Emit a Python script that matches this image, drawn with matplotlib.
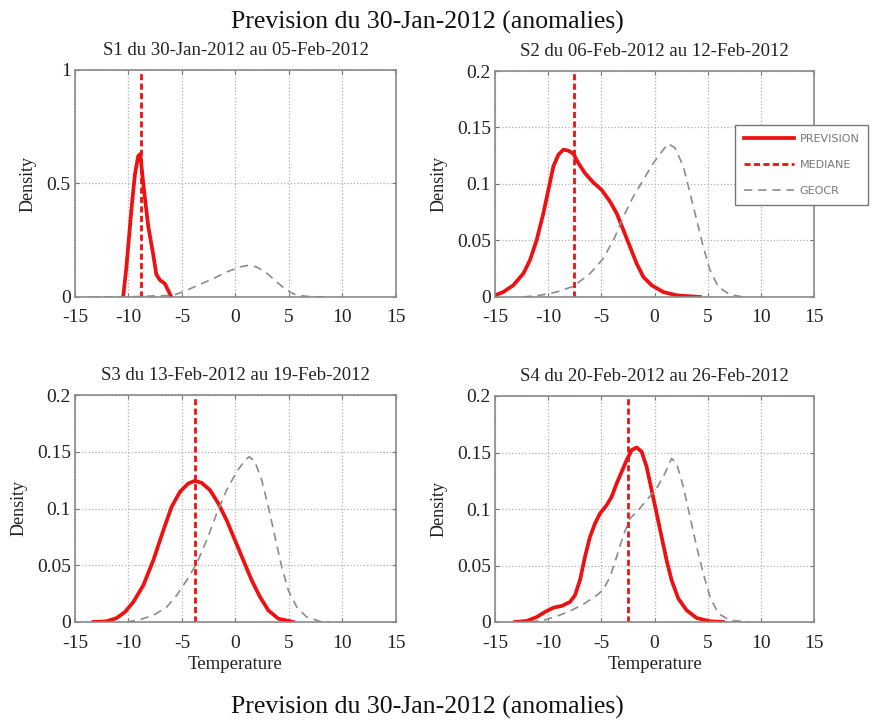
"""Weekly temperature-anomaly forecast densities (S1..S4) vs GEOCR climatology."""
import matplotlib
matplotlib.use("Agg")
import matplotlib.pyplot as plt
from matplotlib.ticker import FormatStrFormatter

plt.rcParams["font.family"] = ["Liberation Serif", "DejaVu Serif"]
plt.rcParams["axes.unicode_minus"] = False

MAIN_TITLE = "Prevision du 30-Jan-2012 (anomalies)"
WEEK_TITLES = [
    "S1 du 30-Jan-2012 au 05-Feb-2012",
    "S2 du 06-Feb-2012 au 12-Feb-2012",
    "S3 du 13-Feb-2012 au 19-Feb-2012",
    "S4 du 20-Feb-2012 au 26-Feb-2012",
]
LEGEND_LABELS = ["PREVISION", "MEDIANE", "GEOCR"]

# S1
prev1_x = [-10.5, -10.2, -9.7, -9.4, -9.1, -8.9, -8.6, -8.15, -7.7, -7.4, -7.05, -6.6, -6.3, -6.0]
prev1_y = [0.0, 0.13, 0.40, 0.54, 0.62, 0.63, 0.49, 0.31, 0.19, 0.10, 0.074, 0.059, 0.03, 0.0]
geo1_x = [-13.6, -9.55, -5.81, -4.56, -3.32, -2.07, -0.83, 0.42, 1.20, 1.98, 2.91, 3.85, 4.78,
          5.72, 6.96, 8.52]
geo1_y = [0.0, 0.0015, 0.0074, 0.0294, 0.0559, 0.0809, 0.1103, 0.1324, 0.1397, 0.1324, 0.1059,
          0.0662, 0.0294, 0.0074, 0.0015, 0.0]
med1 = -8.85

# S2
prev2_x = [-15.0, -14.22, -13.28, -12.34, -11.71, -11.08, -10.45, -9.98, -9.51, -9.04, -8.57,
           -8.10, -7.63, -7.16, -6.54, -5.75, -4.97, -4.18, -3.56, -2.93, -2.30, -1.68, -1.05,
           -0.27, 0.83, 2.08, 4.28]
prev2_y = [0.0015, 0.0044, 0.0104, 0.0207, 0.0326, 0.0504, 0.0741, 0.0948, 0.1156, 0.1259,
           0.1304, 0.1295, 0.1268, 0.1185, 0.1096, 0.1013, 0.0948, 0.0844, 0.0741, 0.0593,
           0.0444, 0.0296, 0.0178, 0.0104, 0.0044, 0.0015, 0.0]
geo2_x = [-12.34, -10.77, -9.20, -7.63, -6.07, -4.81, -3.71, -2.93, -1.99, -1.05, -0.11, 0.83,
          1.30, 1.93, 2.71, 3.34, 3.97, 4.59, 5.22, 6.00, 7.10, 8.35]
geo2_y = [0.0, 0.0015, 0.0044, 0.0095, 0.0207, 0.0341, 0.0533, 0.0711, 0.0889, 0.1037, 0.1185,
          0.1304, 0.1357, 0.1319, 0.1156, 0.0919, 0.0681, 0.0444, 0.0237, 0.0089, 0.0021, 0.0]
med2 = -7.6

# S3
prev3_x = [-13.29, -12.04, -11.11, -10.33, -9.55, -8.61, -7.68, -6.74, -5.97, -5.19, -4.41,
           -3.79, -3.16, -2.38, -1.60, -0.83, -0.05, 0.73, 1.51, 2.29, 3.07, 4.00, 5.40]
prev3_y = [0.0, 0.0006, 0.0035, 0.0088, 0.0176, 0.0324, 0.0544, 0.0809, 0.1015, 0.1147, 0.1221,
           0.1244, 0.1226, 0.1162, 0.1044, 0.0897, 0.0721, 0.0544, 0.0368, 0.0221, 0.0103,
           0.0029, 0.0]
geo3_x = [-10.17, -8.93, -7.68, -6.43, -5.50, -4.56, -3.63, -2.69, -1.76, -0.83, 0.11, 0.89,
          1.29, 1.82, 2.45, 3.07, 3.69, 4.32, 4.94, 5.72, 6.65, 7.90, 8.83]
geo3_y = [0.0, 0.0021, 0.0059, 0.0132, 0.0235, 0.0368, 0.0515, 0.0721, 0.0956, 0.1162, 0.1324,
          0.1426, 0.1456, 0.1412, 0.1250, 0.1015, 0.0750, 0.0485, 0.0279, 0.0132, 0.0044,
          0.0006, 0.0]
med3 = -3.8

# S4
prev4_x = [-13.12, -12.02, -11.08, -10.30, -9.51, -8.73, -7.95, -7.48, -7.01, -6.54, -6.07,
           -5.60, -5.13, -4.50, -4.03, -3.56, -3.09, -2.62, -2.15, -1.68, -1.21, -0.74, -0.27,
           0.20, 0.67, 1.14, 1.61, 2.24, 3.03, 3.97, 5.22, 6.47]
prev4_y = [0.0, 0.0009, 0.0044, 0.0089, 0.0127, 0.0142, 0.0177, 0.0236, 0.0369, 0.0576, 0.0753,
           0.0871, 0.0960, 0.1034, 0.1108, 0.1226, 0.1329, 0.1433, 0.1521, 0.1545, 0.1507,
           0.1374, 0.1167, 0.0960, 0.0753, 0.0546, 0.0369, 0.0207, 0.0103, 0.0035, 0.0006, 0.0]
geo4_x = [-11.71, -10.45, -9.20, -7.95, -6.69, -5.44, -4.81, -4.18, -3.56, -2.93, -2.30, -1.52,
          -0.74, 0.20, 0.98, 1.61, 2.08, 2.71, 3.34, 3.97, 4.59, 5.22, 6.00, 7.10, 8.98]
geo4_y = [0.0, 0.0015, 0.0050, 0.0097, 0.0157, 0.0236, 0.0287, 0.0399, 0.0576, 0.0768, 0.0916,
          0.0990, 0.1078, 0.1182, 0.1315, 0.1448, 0.1404, 0.1196, 0.0930, 0.0665, 0.0428,
          0.0222, 0.0074, 0.0015, 0.0]
med4 = -2.5

prev_x = [prev1_x, prev2_x, prev3_x, prev4_x]
prev_y = [prev1_y, prev2_y, prev3_y, prev4_y]
geo_x = [geo1_x, geo2_x, geo3_x, geo4_x]
geo_y = [geo1_y, geo2_y, geo3_y, geo4_y]
medians = [med1, med2, med3, med4]

x_ticks = [-15, -10, -5, 0, 5, 10, 15]
y_ticks_s1 = [0, 0.5, 1]
y_ticks = [0, 0.05, 0.1, 0.15, 0.2]

W, H = 878, 722
fig = plt.figure(figsize=(W / 100, H / 100), dpi=100)

# axes boxes in pixels: left, top, right, bottom
boxes = [(75, 70, 396, 297), (495, 71, 814, 297), (75, 395, 396, 622), (495, 396, 814, 622)]

RED = "#ee1111"
GREY = "#8c8c8c"
TXT = "#222222"
handles = None
for i, (l, t, r, b) in enumerate(boxes):
    ax = fig.add_axes([l / W, 1 - b / H, (r - l) / W, (b - t) / H])
    h1, = ax.plot(prev_x[i], prev_y[i], color=RED, lw=2.7, solid_joinstyle="round")
    h2 = ax.axvline(medians[i], color=RED, lw=2.0, ls=(0, (2.2, 1.2)))
    h3, = ax.plot(geo_x[i], geo_y[i], color=GREY, lw=1.2, ls=(0, (5, 3.5)))
    if handles is None:
        handles = [h1, h2, h3]

    ax.set_xlim(-15, 15)
    ax.set_xticks(x_ticks)
    if i == 0:
        ax.set_ylim(0, 1)
        ax.set_yticks(y_ticks_s1)
    else:
        ax.set_ylim(0, 0.2)
        ax.set_yticks(y_ticks)
    ax.yaxis.set_major_formatter(FormatStrFormatter("%g"))
    ax.grid(True, ls=":", color="#b0b0b0", lw=0.9)
    for sp in ax.spines.values():
        sp.set_color("#8a8a8a")
        sp.set_linewidth(1.2)
    ax.tick_params(direction="in", length=3, color="#777777", top=True, right=True,
                   labelsize=14, labelcolor=TXT)
    ax.tick_params(axis="x", pad=9)
    ax.tick_params(axis="y", pad=3)
    ax.set_title(WEEK_TITLES[i], fontsize=13.5, pad=11, color=TXT)
    ax.set_ylabel("Density", fontsize=13, labelpad=7, color=TXT)
    if i >= 2:
        ax.set_xlabel("Temperature", fontsize=13.5, labelpad=3, color=TXT)

fig.text(427 / W, 1 - 22 / H, MAIN_TITLE, ha="center", va="center", fontsize=18.5, color="#111111")
fig.text(427 / W, 1 - 707 / H, MAIN_TITLE, ha="center", va="center", fontsize=18.5, color="#111111")

leg = fig.legend(handles, LEGEND_LABELS, loc="upper left",
                 bbox_to_anchor=(735 / W, 1 - 125 / H), bbox_transform=fig.transFigure,
                 borderaxespad=0, prop={"family": "DejaVu Sans", "size": 8},
                 handlelength=4.5, labelspacing=1.45, borderpad=0.8, handletextpad=0.5,
                 fancybox=False, framealpha=1, edgecolor="#777777", labelcolor="#777777")
leg.get_frame().set_linewidth(1.0)

fig.savefig("out.png", dpi=100)
